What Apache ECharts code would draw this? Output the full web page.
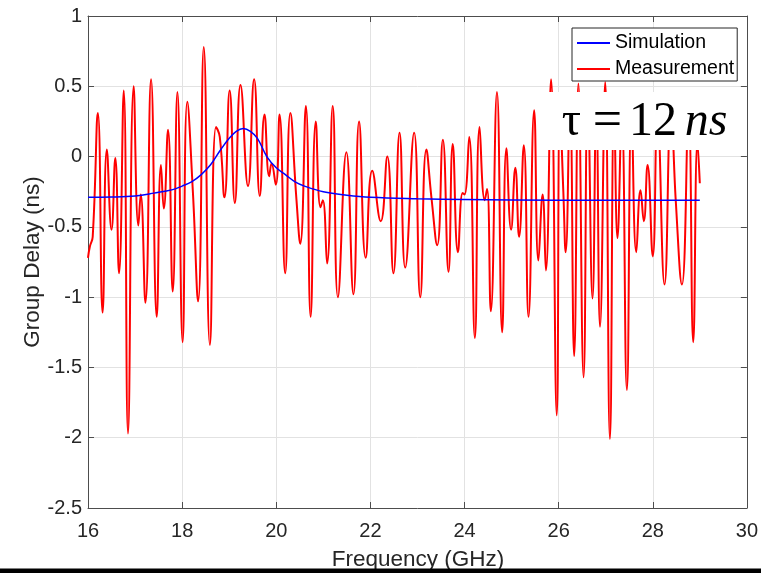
<!DOCTYPE html>
<html>
<head>
<meta charset="utf-8">
<script src="https://cdn.jsdelivr.net/npm/echarts@6/dist/echarts.min.js"></script>
<style>
html,body{margin:0;padding:0;background:#fff;}
#chart{width:761px;height:573px;}
</style>
</head>
<body>
<div id="chart"></div>
<script>
// ---- data ----
const simFreq  = [16.0, 16.5, 17.0, 17.4, 17.8, 18.0, 18.2, 18.4, 18.6, 18.8, 19.0, 19.15, 19.3, 19.45, 19.6, 19.8, 20.0, 20.2, 20.4, 20.6, 21.0, 21.5, 22.0, 23.0, 24.0, 26.0, 29.0];
const simDelay = [-0.29, -0.288, -0.28, -0.26, -0.235, -0.21, -0.18, -0.13, -0.06, 0.04, 0.13, 0.18, 0.20, 0.18, 0.13, 0.0, -0.08, -0.13, -0.18, -0.21, -0.25, -0.275, -0.29, -0.30, -0.305, -0.31, -0.31];

const measFreq = [16.00, 16.04, 16.10, 16.21, 16.31, 16.40, 16.50, 16.58, 16.66, 16.76, 16.85, 16.97, 17.07, 17.12, 17.22, 17.34, 17.46, 17.55, 17.61, 17.70,
  17.80, 17.90, 18.01, 18.11, 18.23, 18.34, 18.46, 18.59, 18.72, 18.80, 18.90, 19.01, 19.12, 19.24, 19.40, 19.53, 19.65, 19.75, 19.85, 19.90,
  19.99, 20.07, 20.19, 20.30, 20.43, 20.51, 20.63, 20.73, 20.84, 20.94, 20.99, 21.08, 21.20, 21.31, 21.49, 21.64, 21.76, 21.90, 22.04, 22.22,
  22.36, 22.49, 22.62, 22.74, 22.93, 23.06, 23.19, 23.30, 23.42, 23.54, 23.66, 23.75, 23.86, 23.96, 24.00, 24.10, 24.22, 24.32, 24.43, 24.48,
  24.56, 24.69, 24.80, 24.89, 24.99, 25.08, 25.16, 25.26, 25.36, 25.48, 25.57, 25.66, 25.73, 25.84, 25.96, 26.03, 26.10, 26.15, 26.24, 26.33,
  26.42, 26.53, 26.62, 26.72, 26.80, 26.88, 26.99, 27.09, 27.18, 27.25, 27.34, 27.45, 27.55, 27.65, 27.74, 27.81, 27.89, 28.00, 28.10, 28.25,
  28.39, 28.49, 28.62, 28.76, 28.86, 28.95, 29.00];
const measDelay = [-0.72, -0.64, -0.57, 0.31, -1.11, 0.05, -0.52, -0.01, -0.83, 0.47, -1.97, 0.50, -0.49, -0.27, -1.04, 0.55, -1.14, -0.06, -0.37, 0.19,
  -0.96, 0.46, -1.32, 0.39, -0.26, -1.03, 0.78, -1.34, 0.21, 0.14, -0.29, 0.47, -0.33, 0.51, -0.21, 0.55, -0.28, 0.30, -0.14, -0.05,
  -0.20, 0.30, -0.83, 0.31, -0.31, -0.62, 0.36, -1.14, 0.25, -0.36, -0.31, -0.76, 0.36, -1.00, 0.03, -0.98, 0.25, -0.72, -0.10, -0.46,
  0.00, -0.83, 0.17, -0.79, 0.17, -1.00, 0.05, -0.30, -0.63, 0.12, -0.82, 0.09, -0.68, -0.26, -0.27, 0.14, -1.29, 0.21, -0.31, -0.23,
  -1.10, 0.46, -1.25, 0.06, -0.52, -0.08, -0.57, 0.08, -1.14, 0.33, -0.74, -0.27, -0.81, 0.55, -1.84, 0.35, -0.25, -0.68, 0.40, -1.42,
  0.52, -1.57, 0.45, -1.01, 0.35, -1.21, 0.53, -2.01, 0.35, -0.58, 0.30, -1.66, 0.30, -0.68, -0.24, -0.46, -0.06, -0.71, 0.30, -0.91,
  0.35, -0.32, -0.91, 0.30, -1.32, 0.10, -0.19];

const seriesNames = ['Simulation', 'Measurement'];
const xLabel = 'Frequency (GHz)';
const yLabel = 'Group Delay (ns)';

const chart = echarts.init(document.getElementById('chart'), null, {renderer: 'canvas'});
const axisColor = '#4d4d4d';
const gridColor = '#e2e2e2';
const sansFont = '"Liberation Sans", Arial, sans-serif';
const serifFont = '"Liberation Serif", "DejaVu Serif", serif';

const baseX = {
  type: 'value', min: 16, max: 30, interval: 2,
  axisLine: {show: true, onZero: false, lineStyle: {color: axisColor, width: 1}},
  axisTick: {show: true, inside: true, length: 6, lineStyle: {color: axisColor}}
};
const baseY = {
  type: 'value', min: -2.5, max: 1, interval: 0.5,
  axisLine: {show: true, onZero: false, lineStyle: {color: axisColor, width: 1}},
  axisTick: {show: true, inside: true, length: 6, lineStyle: {color: axisColor}}
};

const option = {
  animation: false,
  backgroundColor: '#fff',
  grid: {left: 88, right: 13, top: 16, bottom: 65, containLabel: false},
  xAxis: [
    Object.assign({}, baseX, {
      position: 'bottom',
      axisLabel: {fontSize: 20, color: '#262626', margin: 13, fontFamily: sansFont},
      splitLine: {show: true, lineStyle: {color: gridColor, width: 1}}
    }),
    Object.assign({}, baseX, {
      position: 'top',
      axisLabel: {show: false},
      splitLine: {show: false}
    })
  ],
  yAxis: [
    Object.assign({}, baseY, {
      position: 'left',
      axisLabel: {fontSize: 20, color: '#262626', margin: 6, fontFamily: sansFont},
      splitLine: {show: true, lineStyle: {color: gridColor, width: 1}}
    }),
    Object.assign({}, baseY, {
      position: 'right',
      axisLabel: {show: false},
      splitLine: {show: false}
    })
  ],
  legend: {
    data: seriesNames,
    orient: 'vertical',
    left: 572, top: 28,
    padding: [5, 3, 2, 5],
    itemGap: 6,
    itemWidth: 33, itemHeight: 2,
    icon: 'rect',
    backgroundColor: '#fff',
    borderColor: '#262626', borderWidth: 1, borderRadius: 0,
    textStyle: {fontSize: 19.5, color: '#000', fontFamily: sansFont, lineHeight: 20},
    z: 120
  },
  series: [
    {
      name: seriesNames[1], type: 'line',
      data: measFreq.map((f, i) => [f, measDelay[i]]),
      symbol: 'none', showSymbol: false, smooth: 0.5,
      lineStyle: {color: '#ff0000', width: 2},
      itemStyle: {color: '#ff0000'},
      z: 2
    },
    {
      name: seriesNames[0], type: 'line',
      data: simFreq.map((f, i) => [f, simDelay[i]]),
      symbol: 'none', showSymbol: false, smooth: 0.4,
      lineStyle: {color: '#0000ff', width: 1.5},
      itemStyle: {color: '#0000ff'},
      z: 3
    }
  ],
  graphic: [
    {type: 'rect', shape: {x: 548, y: 92, width: 197, height: 58}, style: {fill: '#fff'}, z: 50, silent: true},
    {type: 'text', x: 571.5, y: 122, z: 51, style: {text: 'τ', fill: '#000', font: '48px ' + serifFont, align: 'center', verticalAlign: 'middle'}},
    {type: 'text', x: 607.5, y: 122, z: 51, style: {text: '=', fill: '#000', font: '52px ' + serifFont, align: 'center', verticalAlign: 'middle'}},
    {type: 'text', x: 653, y: 122, z: 51, style: {text: '12', fill: '#000', font: '48px ' + serifFont, align: 'center', verticalAlign: 'middle'}},
    {type: 'text', x: 706, y: 122, z: 51, style: {text: 'ns', fill: '#000', font: 'italic 48px ' + serifFont, align: 'center', verticalAlign: 'middle'}},
    {type: 'text', x: 418, y: 560, z: 60, style: {text: xLabel, fill: '#262626', font: '22.5px ' + sansFont, align: 'center', verticalAlign: 'middle'}},
    {type: 'text', x: 33, y: 262, rotation: Math.PI / 2, z: 60, style: {text: yLabel, fill: '#262626', font: '22.5px ' + sansFont, align: 'center', verticalAlign: 'middle'}},
    {type: 'rect', shape: {x: 0, y: 568.5, width: 761, height: 5}, style: {fill: '#000'}, z: 100, silent: true}
  ]
};
chart.setOption(option);
</script>
</body>
</html>
